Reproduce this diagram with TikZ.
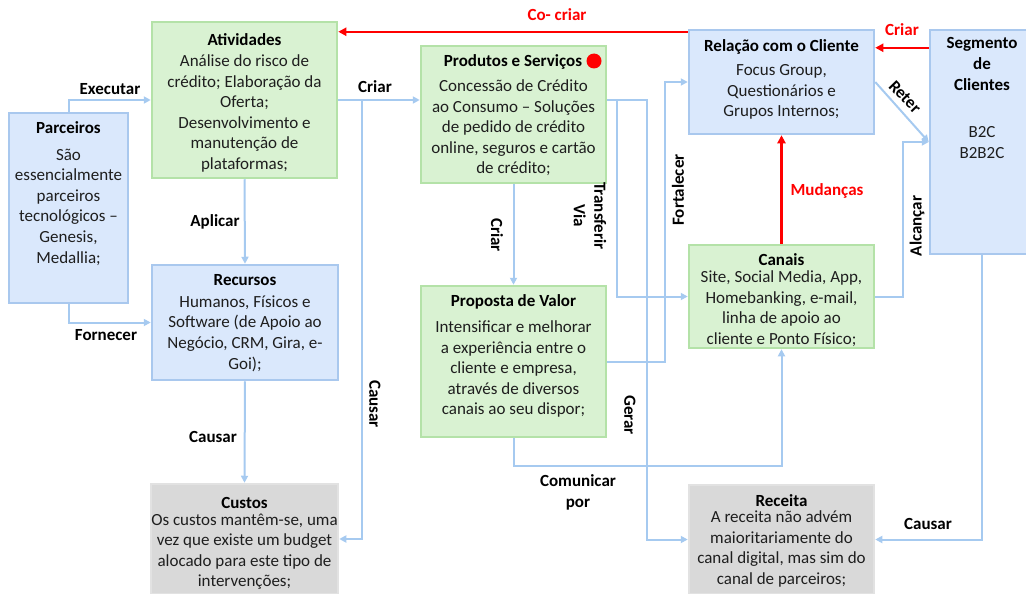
\documentclass[tikz,border=0pt]{standalone}
\usepackage{fontspec}
\setmainfont{Carlito}
\usetikzlibrary{arrows.meta}

\definecolor{bfill}{HTML}{DAE8FC}
\definecolor{bline}{HTML}{A9C8EE}
\definecolor{gfill}{HTML}{D9F2D2}
\definecolor{gline}{HTML}{B4E2A8}
\definecolor{kfill}{HTML}{D9D9D9}
\definecolor{kline}{HTML}{E2E2E2}
\definecolor{conncol}{HTML}{A6CAF0}
\definecolor{txt}{HTML}{1E1E1E}
\definecolor{hot}{HTML}{FF0000}

\newcommand\boxfont{\fontsize{17}{20.6}\selectfont}

\begin{document}
\begin{tikzpicture}[x=1pt,y=-1pt,
  panel/.style={rectangle, line width=2.5pt, inner sep=0pt},
  bluebox/.style={panel, draw=bline, fill=bfill},
  greenbox/.style={panel, draw=gline, fill=gfill},
  graybox/.style={panel, draw=kline, fill=kfill},
  title/.style={font=\bfseries\boxfont, text=black, anchor=base, inner sep=0pt},
  body/.style={font=\boxfont, text=txt, align=center, anchor=north, inner sep=0pt},
  lab/.style={font=\bfseries\boxfont, text=black, inner sep=0pt, align=center},
  redlab/.style={lab, text=hot},
  conn/.style={draw=conncol, line width=2pt, -{Triangle[length=7pt,width=7pt]}},
  hotconn/.style={draw=hot, line width=2.2pt, -{Triangle[length=8pt,width=8pt]}},
]
\useasboundingbox (0,0) rectangle (1026,594);

% ---- boxes ----
\node[bluebox,  minimum width=119pt, minimum height=190pt] (parc) at (68.5,208) {};
\node[greenbox, minimum width=185pt, minimum height=156pt] (ativ) at (244.5,100) {};
\node[bluebox,  minimum width=186pt, minimum height=115pt] (recu) at (245,322.5) {};
\node[graybox,  minimum width=187pt, minimum height=110pt] (cust) at (244.5,539) {};
\node[greenbox, minimum width=185pt, minimum height=137pt] (prod) at (513.5,114.5) {};
\node[greenbox, minimum width=185pt, minimum height=151pt] (prop) at (513.5,361.5) {};
\node[bluebox,  minimum width=185pt, minimum height=104pt] (rela) at (781.5,82) {};
\node[greenbox, minimum width=185pt, minimum height=103pt] (cana) at (781.5,296.5) {};
\node[graybox,  minimum width=185pt, minimum height=109pt] (rece) at (781.5,539.5) {};
\node[bluebox,  minimum width=104pt, minimum height=224pt] (segm) at (982,142) {};

\node[circle, fill=hot, minimum size=15pt, inner sep=0pt] (dot) at (594,61) {};

% ---- box texts ----
\node[title] (parc-t) at (68.5,133.5) {Parceiros};
\node[body]  (parc-b) at (68.5,148.5) {São\\essencialmente\\parceiros\\tecnológicos –\\Genesis,\\Medallia;};

\node[title] (ativ-t) at (244.5,45.5) {Atividades};
\node[body]  (ativ-b) at (244.5,54.5) {Análise do risco de\\crédito; Elaboração da\\Oferta;\\Desenvolvimento e\\manutenção de\\plataformas;};

\node[title] (recu-t) at (245,285.5) {Recursos};
\node[body]  (recu-b) at (245,295.5) {Humanos, Físicos e\\Software (de Apoio ao\\Negócio, CRM, Gira, e-\\Goi);};

\node[title] (cust-t) at (244.5,508.5) {Custos};
\node[body]  (cust-b) at (244.5,513.5) {Os custos mantêm-se, uma\\vez que existe um budget\\alocado para este tipo de\\intervenções;};

\node[title] (prod-t) at (513,66.5) {Produtos e Serviços};
\node[body]  (prod-b) at (513.5,79.5) {Concessão de Crédito\\ao Consumo – Soluções\\de pedido de crédito\\online, seguros e cartão\\de crédito;};

\node[title] (prop-t) at (513.5,306) {Proposta de Valor};
\node[body]  (prop-b) at (513.5,320.5) {Intensificar e melhorar\\a experiência entre o\\cliente e empresa,\\através de diversos\\canais ao seu dispor;};

\node[title] (rela-t) at (781.5,51.5) {Relação com o Cliente};
\node[body]  (rela-b) at (781.5,64.5) {Focus Group,\\Questionários e\\Grupos Internos;};

\node[title] (cana-t) at (781.5,265) {Canais};
\node[body]  (cana-b) at (781.5,270.5) {Site, Social Media, App,\\Homebanking, e-mail,\\linha de apoio ao\\cliente e Ponto Físico;};

\node[title] (rece-t) at (781.5,506.5) {Receita};
\node[body]  (rece-b) at (781.5,510.5) {A receita não advém\\maioritariamente do\\canal digital, mas sim do\\canal de parceiros;};

\node[body, font=\bfseries\boxfont, text=black] (segm-t) at (982,37.5) {Segmento\\de\\Clientes};
\node[body]  (segm-b) at (982,126.5) {B2C\\B2B2C};

% ---- junction points ----
\coordinate (jc) at (362,100);
\coordinate (jt) at (617,100);
\coordinate (jg) at (647,100);
\coordinate (jf) at (665,200);
\coordinate (jp) at (513.5,466);
\coordinate (ja) at (903,220);
\coordinate (sc) at ([yshift=-19pt]segm.north west);
\coordinate (cc) at ([yshift=-3pt]rela.north west);

% ---- connectors ----
\draw[conn] (parc.north) |- (ativ.west);
\draw[conn] (parc.south) |- (recu.west);
\draw[conn] (ativ.south) -- (recu.north);
\draw[conn] (recu.south) -- (cust.north);
\draw[conn] (ativ.east) -- (ativ.east -| prod.west);
\draw[conn] (jc) |- (cust.east);
\draw[conn] (prod.south) -- (prop.north);
\draw[conn] (prod.east |- ativ.east) -- (jg) |- (rece.west);
\draw[conn] (jt) |- (cana.west);
\draw[conn] (prop.east) -- (prop.east -| jf) -- (jf |- rela.west) -- (rela.west);
\draw[conn] (prop.south) -- (jp) -| (cana.south);
\draw[conn] (cana.east) -| (ja) |- (segm.west);
\draw[conn] (rela.east) -- (segm.west);
\draw[conn] (segm.south) |- (rece.east);
\draw[hotconn] (cana.north) -- (rela.south);
\draw[hotconn] (sc) -- (sc -| rela.east);
\draw[hotconn] (cc) -- (cc -| ativ.east);

% ---- connector labels ----
\node[lab] (l-exec) at (110,89) {Executar};
\node[lab] (l-forn) at (106,335) {Fornecer};
\node[lab] (l-apli) at (215,222) {Aplicar};
\node[lab] (l-caus1) at (213,437) {Causar};
\node[lab] (l-cria1) at (375,87) {Criar};
\node[lab, rotate=-90] (l-caus2) at (375,404) {Causar};
\node[lab, rotate=-90] (l-cria2) at (497,235) {Criar};
\node[lab, rotate=-90] (l-tran) at (590,216) {Transferir\\Via};
\node[lab, rotate=90] (l-fort) at (678,190) {Fortalecer};
\node[lab, rotate=-90] (l-gera) at (630,415) {Gerar};
\node[lab] (l-comu) at (578,492.5) {Comunicar\\por};
\node[redlab] (l-muda) at (827,191) {Mudanças};
\node[lab, rotate=90] (l-alca) at (917,226) {Alcançar};
\node[lab, rotate=-46] (l-rete) at (905,97) {Reter};
\node[redlab] (l-cria3) at (902,30) {Criar};
\node[redlab] (l-cocr) at (557,15) {Co- criar};
\node[lab] (l-caus3) at (928,524) {Causar};
\end{tikzpicture}
\end{document}
